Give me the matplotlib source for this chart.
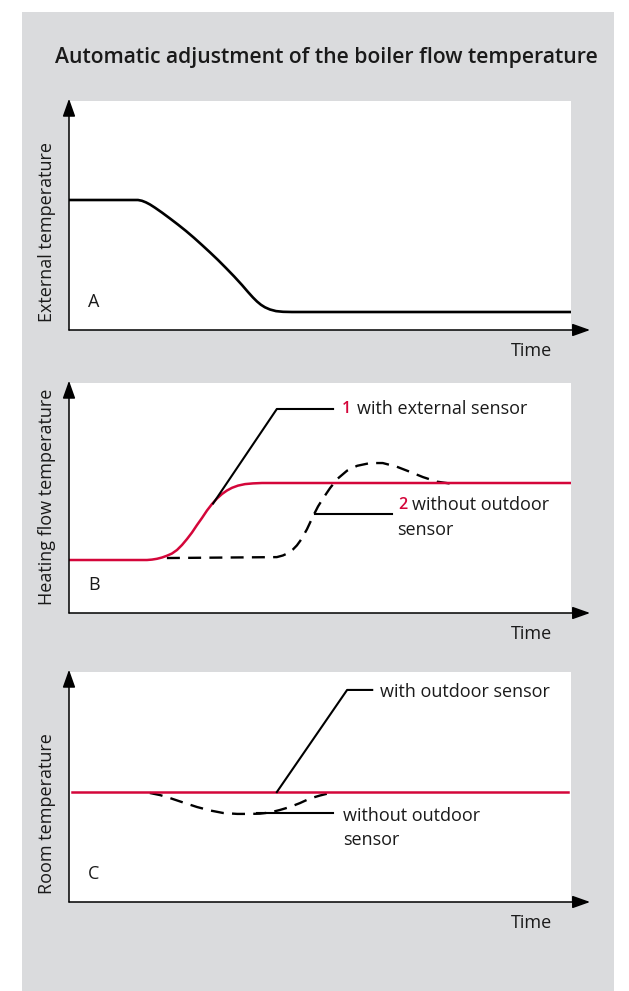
import matplotlib.pyplot as plt
from matplotlib.patches import Rectangle

# ---- data (time 0..100, temperature 0..100) ----
ext_time = [0, 13.75, 14.54, 15.34, 16.14, 17.13, 18.53, 20.12, 21.71, 23.31, 24.90, 26.49, 28.09,
            29.68, 31.27, 32.87, 34.46, 35.66, 36.65, 37.45, 38.25, 39.04, 40.04, 41.24, 42.63, 44.42, 100]
ext_temp = [56.77, 56.77, 56.42, 55.72, 54.80, 53.41, 51.27, 48.69, 46.03, 43.23, 40.26, 37.12, 33.89,
            30.57, 27.07, 23.45, 19.65, 16.59, 14.19, 12.45, 11.00, 9.91, 8.95, 8.25, 7.95, 7.86, 7.86]

flow_with_time = [0, 15.54, 16.53, 17.53, 18.53, 19.52, 20.52, 21.51, 22.51, 23.51, 24.50, 25.50, 26.49,
                  27.49, 28.49, 29.48, 30.48, 31.47, 32.47, 33.67, 35.06, 36.65, 38.45, 100]
flow_with_temp = [23.04, 23.04, 23.22, 23.57, 24.13, 24.91, 25.87, 27.39, 29.57, 32.17, 35.0, 38.26, 41.30,
                  44.57, 47.39, 49.78, 51.74, 53.26, 54.43, 55.39, 56.04, 56.35, 56.52, 56.52]

flow_without_time = [19.5, 41.4, 42.6, 43.6, 44.6, 45.4, 46.2, 47.4, 48.6, 49.6, 50.6, 52.0, 53.4, 55.4,
                     57.4, 60.0, 62.5, 65.3, 67.9, 70.5, 73.3, 75.9]
flow_without_temp = [23.9, 24.3, 25.0, 26.0, 27.6, 29.4, 31.8, 36.4, 42.0, 46.3, 49.8, 54.3, 58.2, 61.9,
                     64.0, 65.2, 65.2, 63.6, 61.4, 59.1, 57.1, 56.3]

room_with_time = [0.6, 99.4]
room_with_temp = [47.8, 47.8]

room_without_time = [16.1, 18.1, 20.1, 22.7, 25.5, 28.1, 30.7, 33.5, 36.1, 38.0, 40.0, 42.0, 44.0, 46.0, 48.0, 50.0, 52.0]
room_without_temp = [47.4, 46.5, 45.2, 43.3, 41.3, 39.8, 38.7, 38.3, 38.3, 38.4, 38.9, 40.0, 41.3, 43.0, 45.0, 46.3, 47.4]

# callout leaders
b1_x, b1_y = [28.7, 41.4, 52.6], [47.6, 88.7, 88.7]
b2_x, b2_y = [49.0, 64.3], [43.0, 43.0]
c1_x, c1_y = [41.4, 55.4, 60.4], [47.8, 92.2, 92.2]
c2_x, c2_y = [37.5, 52.6], [38.7, 38.7]

ylabels = ['External temperature', 'Heating flow temperature', 'Room temperature']
letters = ['A', 'B', 'C']
title = 'Automatic adjustment of the boiler flow temperature'

red = '#d4063a'
grey = '#dadbdd'
ink = '#1a1a1a'
font = 'Open Sans'
fs = 13

W, H = 629, 991
fig = plt.figure(figsize=(W / 100, H / 100), dpi=100)
fig.patch.set_facecolor('white')


def fx(px):
    return px / W


def fy(py):
    return 1 - py / H


fig.patches.append(Rectangle((fx(22), 0), fx(614) - fx(22), fy(12), transform=fig.transFigure,
                             facecolor=grey, edgecolor='none', zorder=-10))

fig.text(fx(55), fy(58), title, fontsize=15.2, fontweight='semibold', family=font,
         color=ink, ha='left', va='center')

# panel boxes in pixels: (top, bottom)
boxes = [(101, 330), (383, 613), (672, 902)]
axes = []
for i, (top, bot) in enumerate(boxes):
    ax = fig.add_axes([fx(69), fy(bot), fx(571) - fx(69), (bot - top) / H])
    ax.set_facecolor('white')
    ax.set_xlim(0, 100)
    ax.set_ylim(0, 100)
    ax.set_xticks([])
    ax.set_yticks([])
    for s in ax.spines.values():
        s.set_visible(False)
    # axis arrows
    ax.annotate('', xy=(1.038, 0), xytext=(0, 0), xycoords='axes fraction',
                arrowprops=dict(arrowstyle='-|>,head_length=0.9,head_width=0.32', color='black',
                                lw=1.1, mutation_scale=12, shrinkA=0, shrinkB=0))
    ax.annotate('', xy=(0, 1.01), xytext=(0, 0), xycoords='axes fraction',
                arrowprops=dict(arrowstyle='-|>,head_length=0.9,head_width=0.32', color='black',
                                lw=1.1, mutation_scale=12, shrinkA=0, shrinkB=0))
    ax.text(3.8, 12.3, letters[i], fontsize=fs, family=font, color=ink, ha='left', va='center')
    fig.text(fx(552), fy(bot + 21), 'Time', fontsize=fs, family=font, color=ink,
             ha='right', va='center')
    fig.text(fx(47), fy(bot - 8), ylabels[i], fontsize=fs, family=font, color=ink,
             rotation=90, ha='center', va='bottom')
    axes.append(ax)

ax_a, ax_b, ax_c = axes
dash = (5.5, 3.5)

# A
ax_a.plot(ext_time, ext_temp, color='black', lw=1.9, solid_capstyle='butt')

# B
ax_b.plot(flow_without_time, flow_without_temp, color='black', lw=1.7, dashes=dash)
ax_b.plot(flow_with_time, flow_with_temp, color=red, lw=1.8)
ax_b.plot(b1_x, b1_y, color='black', lw=1.5)
ax_b.plot(b2_x, b2_y, color='black', lw=1.5)
ax_b.text(54.4, 88.7, '1', fontsize=11.5, family=font, color=red, fontweight='semibold', ha='left', va='center')
ax_b.text(57.4, 88.7, 'with external sensor', fontsize=fs, family=font, color=ink, ha='left', va='center')
ax_b.text(65.5, 47.0, '2', fontsize=11.5, family=font, color=red, fontweight='semibold', ha='left', va='center')
ax_b.text(68.3, 47.0, 'without outdoor', fontsize=fs, family=font, color=ink, ha='left', va='center')
ax_b.text(65.3, 36.1, 'sensor', fontsize=fs, family=font, color=ink, ha='left', va='center')

# C
ax_c.plot(room_without_time, room_without_temp, color='black', lw=1.7, dashes=dash)
ax_c.plot(room_with_time, room_with_temp, color=red, lw=1.8)
ax_c.plot(c1_x, c1_y, color='black', lw=1.5)
ax_c.plot(c2_x, c2_y, color='black', lw=1.5)
ax_c.text(62.0, 91.3, 'with outdoor sensor', fontsize=fs, family=font, color=ink, ha='left', va='center')
ax_c.text(54.6, 37.4, 'without outdoor', fontsize=fs, family=font, color=ink, ha='left', va='center')
ax_c.text(54.6, 27.0, 'sensor', fontsize=fs, family=font, color=ink, ha='left', va='center')

plt.savefig('out.png', dpi=100)
